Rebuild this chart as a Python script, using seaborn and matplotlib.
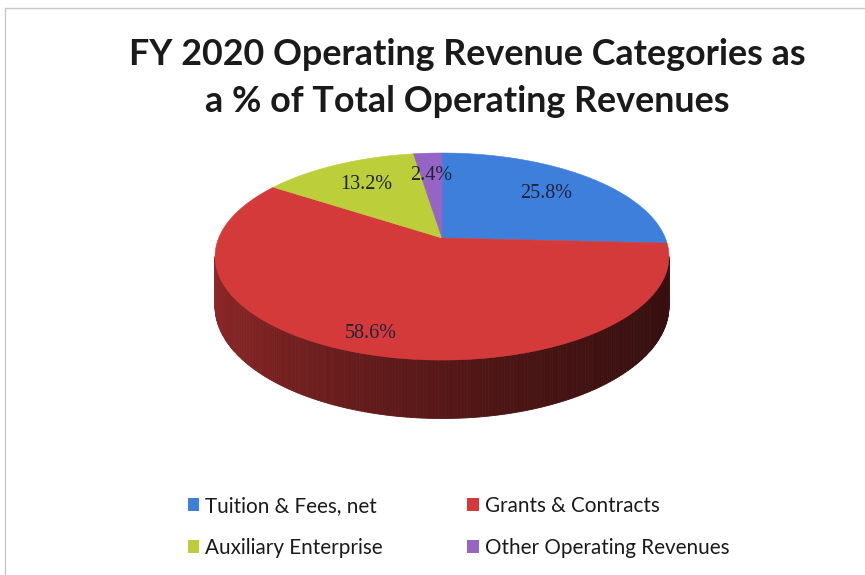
import numpy as np
import matplotlib
matplotlib.use("Agg")
import matplotlib.pyplot as plt
from matplotlib.patches import Polygon, Patch, Rectangle
import seaborn as sns

# ---- data ----
categories = ["Tuition & Fees, net", "Grants & Contracts",
              "Auxiliary Enterprise", "Other Operating Revenues"]
shares = [25.8, 58.6, 13.2, 2.4]
labels = ["25.8%", "58.6%", "13.2%", "2.4%"]
colors = ["#3f7fdc", "#d43a3a", "#bccf3a", "#9564c4"]
title = "FY 2020 Operating Revenue Categories as\na % of Total Operating Revenues"

sns.set_theme(style="white")
plt.rcParams["font.family"] = ["Lato", "DejaVu Sans"]

W, H = 865, 575
fig = plt.figure(figsize=(W / 100, H / 100), dpi=100)
ax = fig.add_axes([0, 0, 1, 1])
ax.set_xlim(0, W)
ax.set_ylim(H, 0)
ax.axis("off")

# ---- 3-D pie geometry (perspective-tilted disk) ----
CX, CY = 442.0, 238.0     # pie centre on screen
A, B = 223.3, 100.2       # horizontal / vertical radii
E = 0.179                 # perspective foreshortening
DEPTH = 48.0              # thickness of the disk
START = 90.0              # first slice starts at 12 o'clock, clockwise


def proj(r, th):
    d = 1.0 + E * r * np.sin(th)
    return CX + A * r * np.cos(th) / d, CY - B * r * np.sin(th) / d


def shade(c, f):
    rgb = np.array(matplotlib.colors.to_rgb(c))
    return tuple(np.clip(rgb * f, 0, 1))


total = sum(shares)
bounds = START - np.concatenate([[0], np.cumsum(shares)]) / total * 360.0


def slice_at(deg):
    deg = (deg - START) % 360.0 - 360.0 + START  # map into (START-360, START]
    for i in range(len(shares)):
        if bounds[i + 1] <= deg <= bounds[i]:
            return i
    return len(shares) - 1


# front wall, drawn as thin shaded strips from left to right
th_r = -np.arcsin(E)
th_l = -np.pi + np.arcsin(E)
edges = np.linspace(th_l, th_r, 241)
for t0, t1 in zip(edges[:-1], edges[1:]):
    tt = np.linspace(t0, t1, 3)
    x, y = proj(1.0, tt)
    d = 1.0 + E * np.sin(tt)
    yb = y + DEPTH / d
    idx = slice_at(np.degrees((t0 + t1) / 2))
    tm = (t0 + t1) / 2
    f = 0.70 - 0.42 * (np.cos(tm) + 1) / 2 - 0.08 * (-np.sin(tm))
    col = shade(colors[idx], f)
    pts = np.column_stack([np.concatenate([x, x[::-1]]),
                           np.concatenate([y, yb[::-1]])])
    ax.add_patch(Polygon(pts, closed=True, facecolor=col, edgecolor=col,
                         linewidth=0.6))

# top surface of each slice
for i, c in enumerate(colors):
    tt = np.radians(np.linspace(bounds[i], bounds[i + 1], 200))
    x, y = proj(1.0, tt)
    pts = np.column_stack([np.concatenate([[CX], x]),
                           np.concatenate([[CY], y])])
    ax.add_patch(Polygon(pts, closed=True, facecolor=c, edgecolor=c,
                         linewidth=0.4))

# percentage labels inside the slices
label_r = [0.70, 0.86, 0.70, 0.70]
for i, lab in enumerate(labels):
    mid = np.radians((bounds[i] + bounds[i + 1]) / 2)
    lx, ly = proj(label_r[i], mid)
    ax.text(lx, ly, lab, ha="center", va="center", fontsize=14.5,
            color="#20243a", family=["Liberation Serif", "DejaVu Serif"])

# title
ax.text(467, 78, title, ha="center", va="center", fontsize=25.8,
        fontweight="bold", color="#1a1a1a", linespacing=1.49)

# legend
handles = [Patch(facecolor=c, edgecolor="none") for c in colors]
order = [0, 2, 1, 3]
leg = ax.legend([handles[k] for k in order], [categories[k] for k in order],
                ncol=2, loc="center", bbox_to_anchor=(0.53, 0.0835),
                frameon=False, fontsize=14.9, handlelength=0.55,
                handleheight=0.55, handletextpad=0.3, columnspacing=4.07,
                labelspacing=1.06)
for t in leg.get_texts():
    t.set_color("#1a1a1a")

# thin frame around the chart area
fig.patches.append(Rectangle((5 / W, -0.01), 1.02, (H - 8) / H + 0.01,
                             transform=fig.transFigure, fill=False,
                             edgecolor="#c8c8c8", linewidth=1.0))

fig.savefig("out.png", dpi=100)
